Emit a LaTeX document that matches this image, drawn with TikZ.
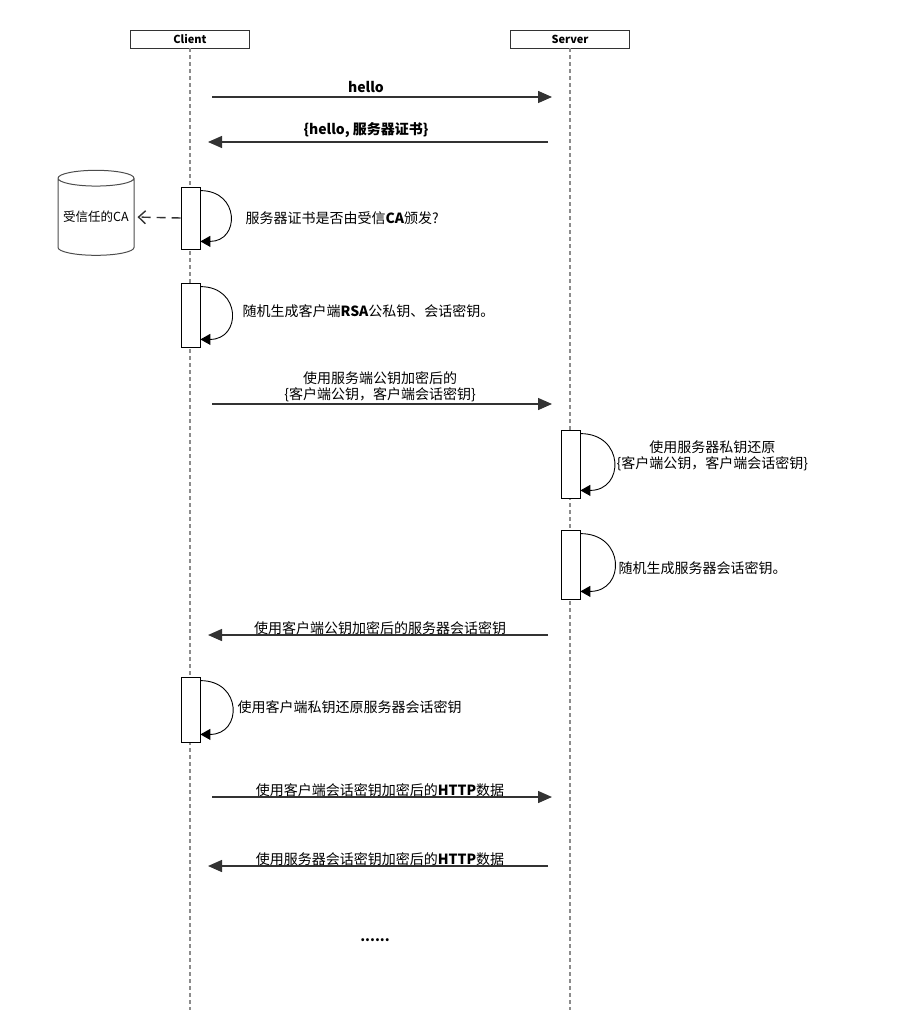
\documentclass[tikz,border=0pt]{standalone}
\usepackage{fontspec}
\setmainfont{Noto Sans CJK SC}
\usetikzlibrary{arrows.meta,positioning,shapes.geometric}
\definecolor{lineclr}{HTML}{333333}
\definecolor{lifeclr}{HTML}{8C8C8C}
\begin{document}
\begin{tikzpicture}[x=1pt, y=-1pt,
        every node/.style={font=\fontsize{14}{16.5}\selectfont, text=black},
        actor/.style={draw=lineclr, thick, minimum width=119, minimum height=18, inner sep=0pt, font=\fontsize{11}{13}\selectfont\bfseries},
        life/.style={draw=lifeclr, line width=1.2pt, dash pattern=on 4pt off 3pt},
        act/.style={draw=black, fill=white, line width=0.8pt, minimum width=19, inner sep=0pt},
        msg/.style={draw=lineclr, line width=1.4pt, -{Triangle[length=14pt,width=12pt]}, shorten <=22pt, shorten >=18pt},
        lbl/.style={above, inner sep=1pt, align=center},
        selfmsg/.style={draw=black, line width=0.9pt, -{Triangle[length=10pt,width=11pt]}, out=0, in=0, looseness=2},
        note/.style={anchor=west, inner sep=0pt, align=center},
        db/.style={cylinder, shape border rotate=90, aspect=0.24, draw=black!70, line width=1pt, minimum width=76, minimum height=85, inner sep=0pt, font=\fontsize{12.5}{14}\selectfont}]
    \useasboundingbox (0,0) rectangle (919,1030);

    % Participants and lifelines
    \node[actor] (client) at (190,39) {Client};
    \node[actor] (server) at (570,39) {Server};
    \coordinate (clientend) at (190,1010);
    \coordinate (serverend) at (570,1010);
    \draw[life] (client.south) -- (clientend);
    \draw[life] (server.south) -- (serverend);

    % Points on the lifelines where messages start and end
    \foreach \n/\y in {1/97,2/142,3/404,4/635,5/797,6/866} {
        \coordinate (C\n) at (190,\y);
        \coordinate (S\n) at (570,\y);
    }

    % Activation boxes
    \node[act, minimum height=62] (A1) at (190.5,218) {};
    \node[act, minimum height=64] (A2) at (190.5,315) {};
    \node[act, minimum height=68] (B1) at (570.5,464) {};
    \node[act, minimum height=69] (B2) at (570.5,564.5) {};
    \node[act, minimum height=65] (A3) at (190.5,709.5) {};

    % Trusted CA store
    \node[db] (ca) at (96,217) {受信任的CA};
    \draw[draw=lineclr, line width=1.4pt, dash pattern=on 9pt off 6pt, -{Straight Barb[length=7pt,width=13pt]}, shorten >=3pt] (A1.west) -- (ca.east);

    % Messages between client and server
    \draw[msg] (C1) -- node[lbl, xshift=-14, inner sep=4pt] {\bfseries hello} (S1);
    \draw[msg] (S2) -- node[lbl, xshift=-14, inner sep=4pt] {\bfseries\{hello, 服务器证书\}} (C2);
    \draw[msg] (C3) -- node[lbl] {使用服务端公钥加密后的\\\{客户端公钥，客户端会话密钥\}} (S3);
    \draw[msg] (S4) -- node[lbl, yshift=-1.5] {使用客户端公钥加密后的服务器会话密钥} (C4);
    \draw[msg] (C5) -- node[lbl, yshift=-1.5] {使用客户端会话密钥加密后的{\bfseries HTTP}数据} (S5);
    \draw[msg] (S6) -- node[lbl, yshift=-1.5] {使用服务器会话密钥加密后的{\bfseries HTTP}数据} (C6);

    % Self messages
    \foreach \b in {A1,A2,B1,B2,A3} {
        \draw[selfmsg] ([yshift=-4pt]\b.north east) to ([yshift=8pt]\b.south east);
    }
    \node[note, right=45pt of A1] (n1) {服务器证书是否由受信{\bfseries CA}颁发?};
    \node[note, right=42pt of A2, yshift=4] (n2) {随机生成客户端{\bfseries RSA}公私钥、会话密钥。};
    \node[note, right=36pt of B1, yshift=8] (n3) {使用服务器私钥还原\\\{客户端公钥，客户端会话密钥\}};
    \node[note, right=38pt of B2, yshift=-4] (n4) {随机生成服务器会话密钥。};
    \node[note, right=37pt of A3, yshift=2] (n5) {使用客户端私钥还原服务器会话密钥};

    % More messages follow
    \node (more) at (375,940) {\bfseries ......};
\end{tikzpicture}
\end{document}
